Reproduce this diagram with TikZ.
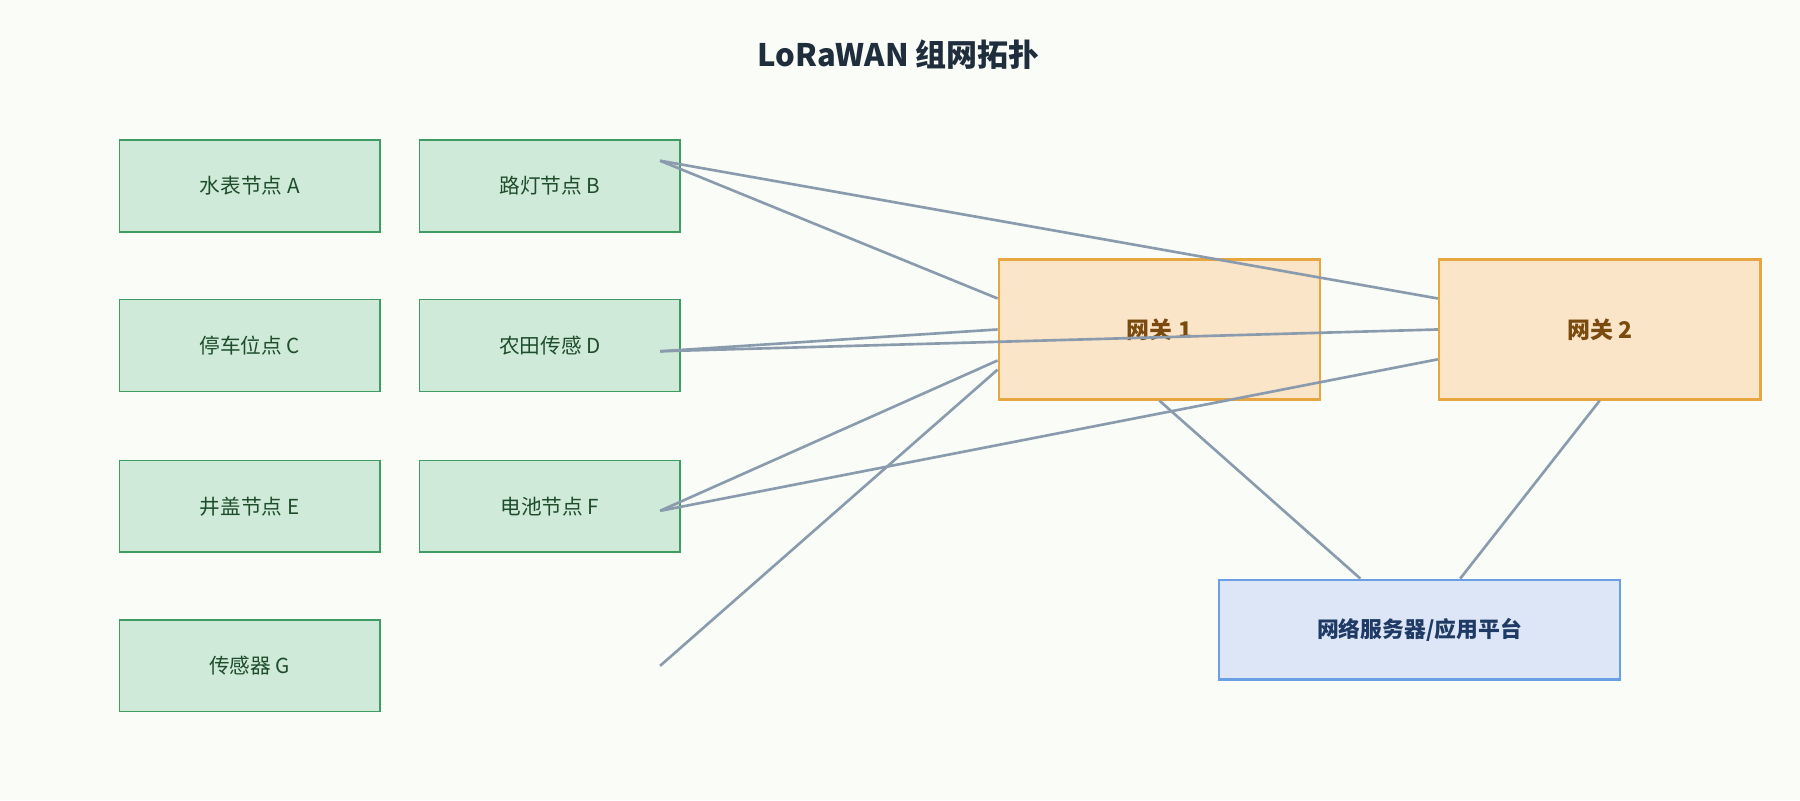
\documentclass[tikz,border=0pt]{standalone}
\usepackage{fontspec}
\setmainfont{Noto Sans CJK SC}
\begin{document}
\begin{tikzpicture}[x=1pt,y=-1pt,
  dev/.style={draw=devb,fill=devf,line width=1.3pt,minimum width=227pt,minimum height=80pt,inner sep=0pt,text=devt,font=\fontsize{18}{20}\selectfont},
  gw/.style={draw=gwb,fill=gwf,line width=2pt,minimum width=280pt,minimum height=122pt,inner sep=0pt,text=gwt,font=\bfseries\fontsize{20}{22}\selectfont},
  srv/.style={draw=svb,fill=svf,line width=2pt,minimum width=349pt,minimum height=87pt,inner sep=0pt,text=svt,font=\bfseries\fontsize{19}{22}\selectfont},
  link/.style={draw=lnk,line width=2.3pt}]
\definecolor{bg}{HTML}{FAFCF7}
\definecolor{devb}{HTML}{3E9C62}\definecolor{devf}{HTML}{D0EAD9}\definecolor{devt}{HTML}{1E4D2B}
\definecolor{gwb}{HTML}{E8A640}\definecolor{gwf}{HTML}{FAE5C8}\definecolor{gwt}{HTML}{7A4A0F}
\definecolor{svb}{HTML}{6A9FE6}\definecolor{svf}{HTML}{DDE6F6}\definecolor{svt}{HTML}{1F3A64}
\definecolor{lnk}{HTML}{8A9BAE}\definecolor{ttl}{HTML}{1F2D3D}
\fill[bg] (0,0) rectangle (1568,697);
\useasboundingbox (0,0) rectangle (1568,697);
\node[text=ttl,font=\bfseries\fontsize{27}{30}\selectfont] (title) at (783,48) {LoRaWAN 组网拓扑};
\node[dev] (A) at (217.5,162) {水表节点 A};
\node[dev] (B) at (479,162) {路灯节点 B};
\node[dev] (C) at (217.5,301) {停车位点 C};
\node[dev] (D) at (479,301) {农田传感 D};
\node[dev] (E) at (217.5,441) {井盖节点 E};
\node[dev] (F) at (479,441) {电池节点 F};
\node[dev] (G) at (217.5,580) {传感器 G};
\node[gw] (g1) at (1010,287) {网关 1};
\node[gw] (g2) at (1393.5,287) {网关 2};
\node[srv] (s) at (1236.5,548.5) {网络服务器/应用平台};
\coordinate (pB) at (575,140);
\coordinate (pD) at (575,306);
\coordinate (pF) at (575,445);
\coordinate (pG) at (575,580);
\draw[link] (pB) -- (g1.west |- 0,260);
\draw[link] (pB) -- (g2.west |- 0,260);
\draw[link] (pD) -- (g1.west |- 0,287);
\draw[link] (pD) -- (g2.west |- 0,287);
\draw[link] (pF) -- (g1.west |- 0,314);
\draw[link] (pF) -- (g2.west |- 0,313);
\draw[link] (pG) -- (g1.west |- 0,322);
\draw[link] (g1.south) -- (s.north -| 1185,0);
\draw[link] (g2.south) -- (s.north -| 1272,0);
\end{tikzpicture}
\end{document}
